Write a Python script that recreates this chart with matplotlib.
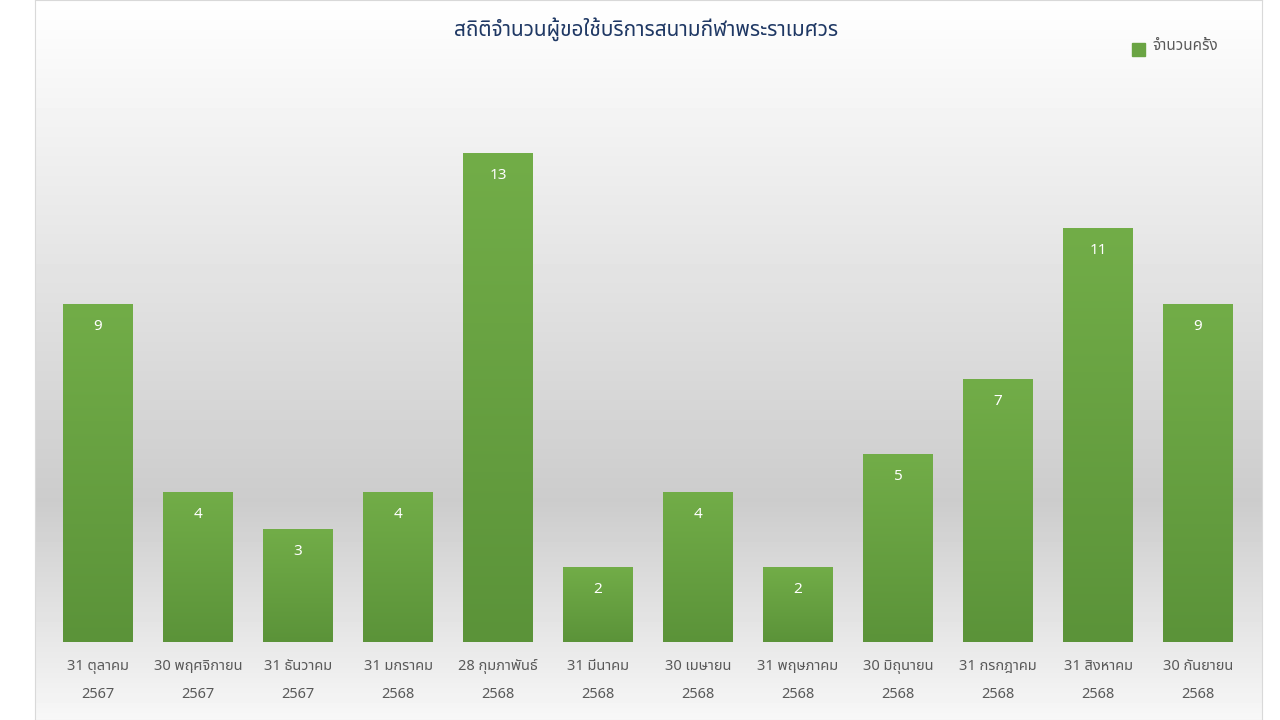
import numpy as np
import matplotlib.pyplot as plt
from matplotlib import font_manager

plt.rcParams['font.family'] = ['Noto Sans Thai', 'Loma', 'Garuda', 'Tlwg Typo', 'DejaVu Sans']

labels = ['31 ตุลาคม\n2567', '30 พฤศจิกายน\n2567', '31 ธันวาคม\n2567', '31 มกราคม\n2568',
          '28 กุมภาพันธ์\n2568', '31 มีนาคม\n2568', '30 เมษายน\n2568', '31 พฤษภาคม\n2568',
          '30 มิถุนายน\n2568', '31 กรกฎาคม\n2568', '31 สิงหาคม\n2568', '30 กันยายน\n2568']
values = [9, 4, 3, 4, 13, 2, 4, 2, 5, 7, 11, 9]

fig = plt.figure(figsize=(12.8, 7.2), dpi=100)
# background panel gradient
bg = fig.add_axes([35/1280, 0, 1227/1280, 1], zorder=0)
g = np.concatenate([np.linspace(1.0, 0.80, 500), np.linspace(0.80, 0.97, 220)])[:, None]
bg.imshow(g, cmap='gray', vmin=0, vmax=1, aspect='auto', extent=[0, 1, 0, 1])
bg.set_xticks([]); bg.set_yticks([])
for s in bg.spines.values():
    s.set_color('#d9d9d9')

ax = fig.add_axes([48/1280, 78/720, 1200/1280, 582/720], zorder=1)
ax.patch.set_alpha(0)
x = np.arange(len(values))
ax.set_xlim(-0.35 - 0.15, len(values) - 0.5)
ax.set_xlim(-0.5, len(values) - 0.5)
ax.set_ylim(0, 582 / 37.6)
cmap = plt.matplotlib.colors.LinearSegmentedColormap.from_list('g', ['#5b9339', '#72ad48'])
grad = np.linspace(0, 1, 256)[:, None]
for xi, v in zip(x, values):
    bar = ax.bar(xi, v, width=0.7, color='none', zorder=2)[0]
    im = ax.imshow(grad, cmap=cmap, aspect='auto', origin='lower',
                   extent=[xi - 0.35, xi + 0.35, 0, v], zorder=2)
    im.set_clip_path(bar)
    ax.text(xi, v - 0.6, str(v), ha='center', va='center', color='white', fontsize=11, zorder=3)
ax.set_aspect('auto')
ax.set_xlim(-0.5, len(values) - 0.5)
ax.set_ylim(0, 582 / 37.6)
ax.set_xticks(x)
ax.set_xticklabels(labels, color='#595959', fontsize=10.5, linespacing=2.2)
ax.tick_params(length=0, pad=12)
ax.set_yticks([])
for s in ax.spines.values():
    s.set_visible(False)

fig.text(0.505, 0.96, 'สถิติจำนวนผู้ขอใช้บริการสนามกีฬาพระราเมศวร', ha='center', va='center',
         fontsize=15, fontweight='bold', color='#1f3864')
fig.patches.append(plt.Rectangle((1132/1280, 664/720), 13/1280, 13/720, color='#6aa443',
                                 transform=fig.transFigure, figure=fig))
fig.text(1152/1280, 0.936, 'จำนวนครั้ง', ha='left', va='center', fontsize=11, color='#595959')
fig.savefig('out.png')
